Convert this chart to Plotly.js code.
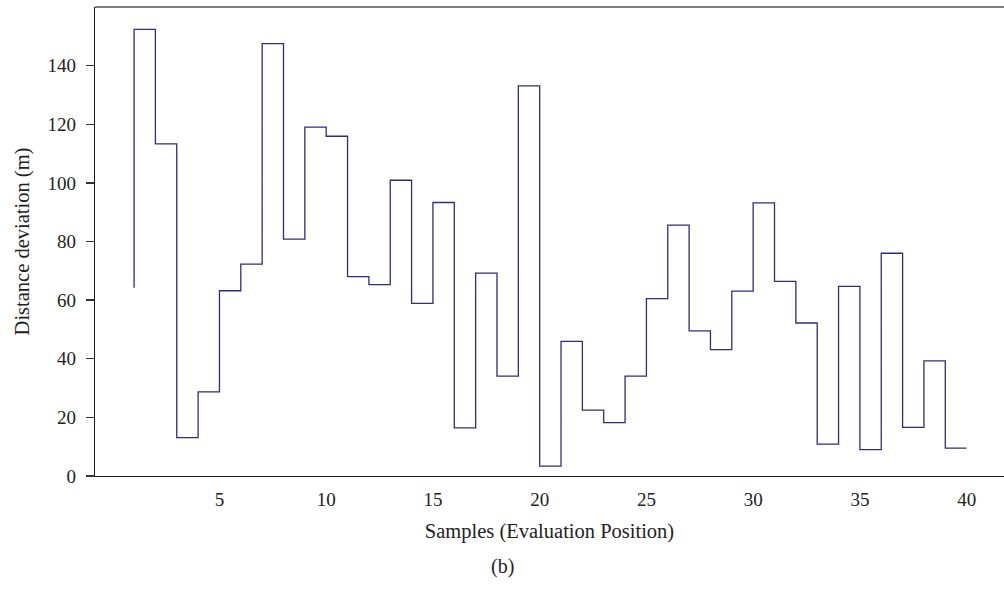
<!DOCTYPE html>
<html>
<head>
<meta charset="utf-8">
<script src="https://cdn.plot.ly/plotly-3.0.1.min.js"></script>
<style>html,body{margin:0;padding:0;background:#fff;}#chart{width:1004px;height:590px;}</style>
</head>
<body>
<div id="chart"></div>
<script>
const samples = [];
for (let i = 1; i <= 40; i++) samples.push(i);
const deviation = [64.2, 152.4, 113.3, 13.1, 28.7, 63.2, 72.3, 147.5, 80.8, 119.0,
                   115.9, 68.0, 65.3, 100.9, 58.9, 93.3, 16.4, 69.2, 34.1, 133.1,
                   3.4, 45.9, 22.5, 18.2, 34.1, 60.5, 85.6, 49.5, 43.1, 63.1,
                   93.2, 66.4, 52.2, 10.9, 64.7, 9.0, 76.0, 16.6, 39.3, 9.5];
const xTicks = [5, 10, 15, 20, 25, 30, 35, 40];
const yTicks = [0, 20, 40, 60, 80, 100, 120, 140];

const font = 'Liberation Serif, Times New Roman, serif';

const trace = {
  x: samples,
  y: deviation,
  type: 'scatter',
  mode: 'lines',
  line: {shape: 'vh', color: '#2f2c80', width: 1.3},
  hoverinfo: 'x+y'
};

const layout = {
  width: 1004,
  height: 590,
  margin: {l: 95, r: 0, t: 7, b: 114},
  paper_bgcolor: '#fff',
  plot_bgcolor: '#fff',
  showlegend: false,
  font: {family: font, size: 19, color: '#222'},
  xaxis: {
    range: [-0.83, 41.75],
    tickvals: xTicks,
    ticktext: xTicks.map(String),
    ticks: 'outside',
    ticklen: 6,
    tickcolor: 'rgba(0,0,0,0)',
    showgrid: false,
    zeroline: false,
    showline: true,
    linecolor: '#1a1a1a',
    linewidth: 1.3,
    tickfont: {family: font, size: 19, color: '#222'},
    title: {text: 'Samples (Evaluation Position)', font: {family: font, size: 20.5, color: '#222'}, standoff: 14}
  },
  yaxis: {
    range: [0, 160],
    tickvals: yTicks,
    ticktext: yTicks.map(String),
    ticks: 'outside',
    ticklen: 8,
    tickwidth: 1.3,
    tickcolor: '#333',
    ticklabelstandoff: 6,
    showgrid: false,
    zeroline: false,
    showline: true,
    linecolor: '#1a1a1a',
    linewidth: 1.3,
    tickfont: {family: font, size: 19, color: '#222'},
    title: {text: 'Distance deviation (m)', font: {family: font, size: 20.5, color: '#222'}, standoff: 12}
  },
  shapes: [{
    type: 'line', xref: 'paper', yref: 'paper',
    x0: 0, x1: 1, y0: 1, y1: 1,
    line: {color: '#555', width: 1.5}
  }],
  annotations: [{
    text: '(b)', xref: 'paper', yref: 'paper',
    x: 0.448, y: -0.193, xanchor: 'center', yanchor: 'middle',
    showarrow: false, font: {family: font, size: 20, color: '#222'}
  }]
};

Plotly.newPlot('chart', [trace], layout, {displayModeBar: false, staticPlot: true});
</script>
</body>
</html>
